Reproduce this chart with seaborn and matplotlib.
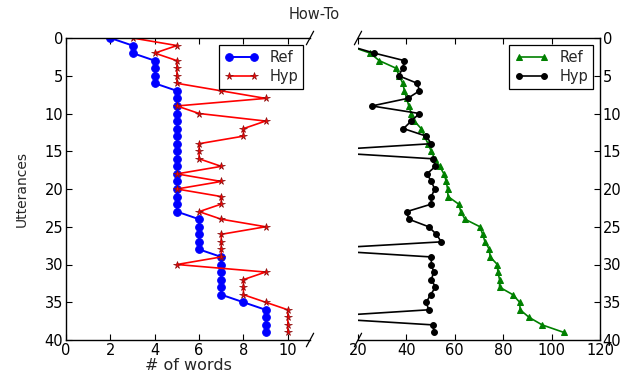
import numpy as np
import pandas as pd
import matplotlib
matplotlib.use("Agg")
import matplotlib.pyplot as plt
import seaborn as sns

title = "How-To"
utterances = list(range(40))

# left panel: number of words
ref_words = [2, 3, 3, 4, 4, 4, 4, 5, 5, 5, 5, 5, 5, 5, 5, 5, 5, 5, 5, 5,
             5, 5, 5, 5, 6, 6, 6, 6, 6, 7, 7, 7, 7, 7, 7, 8, 9, 9, 9, 9]
hyp_words = [3, 5, 4, 5, 5, 5, 5, 7, 9, 5, 6, 9, 8, 8, 6, 6, 6, 7, 5, 7,
             5, 7, 7, 6, 7, 9, 7, 7, 7, 7, 5, 9, 8, 8, 8, 9, 10, 10, 10, 10]

# right panel
ref_right = [12, 16, 25, 28.8, 35.7, 37, 38.5, 39.2, 40.1, 41,
             42, 43.3, 46.1, 47.5, 48.9, 50.3, 51.7, 53.8, 55.5, 56.5,
             57, 57.2, 61.6, 62.5, 64.2, 70.4, 71.5, 72.5, 74.3, 74.6,
             77.6, 77.8, 78.5, 78.5, 84, 86.8, 87, 90.7, 96.1, 105.1]
hyp_right = [12, 16, 26.7, 39.2, 38.5, 36.8, 44.5, 45.4, 40.5, 25.7,
             45.4, 42, 38.8, 48.2, 50.3, 0, 51, 52, 48.5, 50.3,
             51.7, 50.3, 50.3, 40.1, 41, 49.2, 52.4, 54.4, 0, 50.3,
             50.3, 51.3, 50.3, 52, 50, 48.2, 49.2, 0, 51, 51.4]

left_xticks = [0, 2, 4, 6, 8, 10]
right_xticks = [20, 40, 60, 80, 100, 120]
yticks = [0, 5, 10, 15, 20, 25, 30, 35, 40]

sns.set_style("white")
plt.rcParams['font.family'] = ['DejaVu Sans']

fig = plt.figure(figsize=(6.29, 3.72), dpi=100)
axL = fig.add_axes([66/629, 1-340/372, (310-66)/629, (340-38)/372])
axR = fig.add_axes([358/629, 1-340/372, (600-358)/629, (340-38)/372])

df = pd.DataFrame({"utt": utterances, "ref_w": ref_words, "hyp_w": hyp_words,
                   "ref_r": ref_right, "hyp_r": hyp_right})

sns.lineplot(data=df, x="ref_w", y="utt", sort=False, estimator=None, ax=axL,
             color="blue", lw=1.4, marker="o", markersize=5.5,
             markeredgecolor="blue", label="Ref")
sns.lineplot(data=df, x="hyp_w", y="utt", sort=False, estimator=None, ax=axL,
             color="red", lw=1.2, marker="*", markersize=5.5,
             markeredgecolor="#8a1010", markeredgewidth=0.5, label="Hyp")
sns.lineplot(data=df, x="ref_r", y="utt", sort=False, estimator=None, ax=axR,
             color="green", lw=1.2, marker="^", markersize=5,
             markeredgecolor="green", label="Ref")
sns.lineplot(data=df, x="hyp_r", y="utt", sort=False, estimator=None, ax=axR,
             color="black", lw=1.2, marker="o", markersize=4.2,
             markeredgecolor="black", label="Hyp")

for ax in (axL, axR):
    ax.set_ylim(40, 0)
    ax.set_yticks(yticks)
    ax.set_xlabel("")
    ax.set_ylabel("")
    for s in ax.spines.values():
        s.set_color("black")
        s.set_linewidth(1.0)
    ax.tick_params(direction="in", length=4, width=0.8, labelsize=10.5,
                   top=True, bottom=True, colors="black", pad=2)
    leg = ax.legend(loc="upper right", numpoints=2, fancybox=False,
                    edgecolor="black", framealpha=1, fontsize=10.5,
                    handlelength=2.3, borderaxespad=0.45, labelspacing=0.3,
                    borderpad=0.35, handletextpad=0.8)
    leg.get_frame().set_linewidth(0.9)

axL.set_xlim(0, 11)
axL.set_xticks(left_xticks)
axL.spines["right"].set_visible(False)
axL.tick_params(left=True, right=False, labelleft=True, labelright=False)
axL.set_xlabel("# of words", fontsize=11.5, labelpad=0)
axL.set_ylabel("Utterances", fontsize=10, labelpad=11)

axR.set_xlim(20, 120)
axR.set_xticks(right_xticks)
axR.spines["left"].set_visible(False)
axR.yaxis.tick_right()
axR.tick_params(left=False, right=True, labelleft=False, labelright=True)

# break marks
d = 0.015
kw = dict(color="black", clip_on=False, lw=0.9)
axL.plot((1 - d, 1 + d), (-d * 1.5, d * 1.5), transform=axL.transAxes, **kw)
axL.plot((1 - d, 1 + d), (1 - d * 1.5, 1 + d * 1.5), transform=axL.transAxes, **kw)
axR.plot((-d, d), (-d * 1.5, d * 1.5), transform=axR.transAxes, **kw)
axR.plot((-d, d), (1 - d * 1.5, 1 + d * 1.5), transform=axR.transAxes, **kw)

fig.suptitle(title, x=0.5, y=0.98, fontsize=10.5)
fig.savefig("out.png", dpi=100, facecolor="white")
